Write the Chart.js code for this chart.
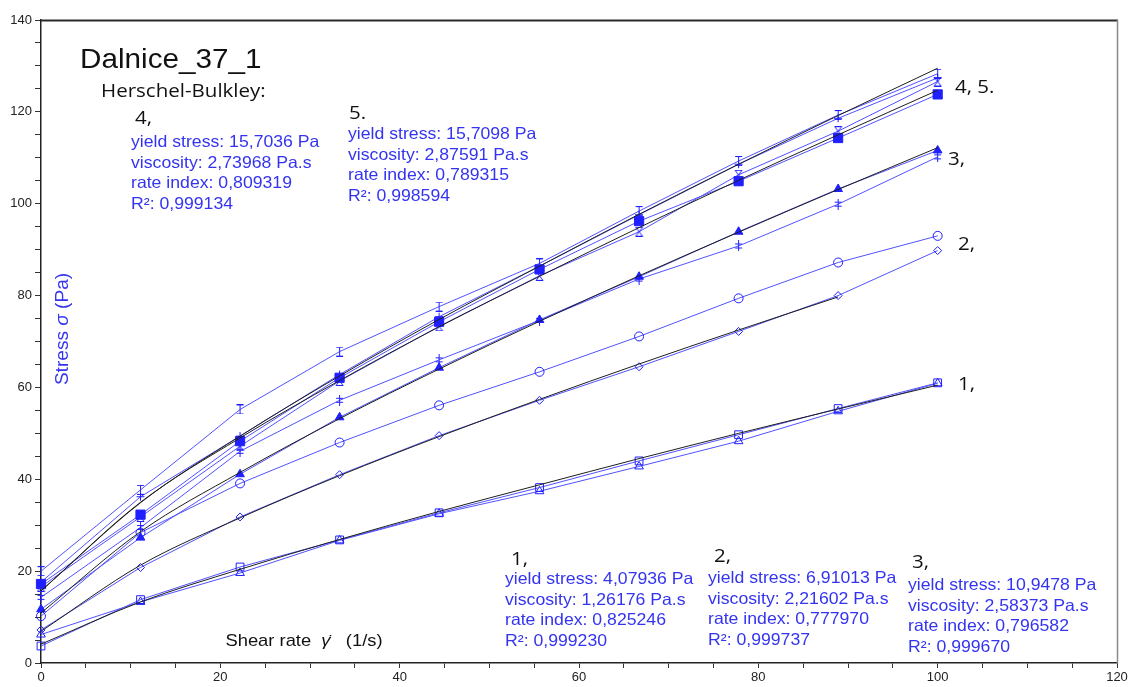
<!DOCTYPE html>
<html>
<head>
<meta charset="utf-8">
<title>Dalnice_37_1</title>
<script src="https://cdn.jsdelivr.net/npm/chart.js@4.4.1/dist/chart.umd.min.js"></script>
<style>
  html, body { margin: 0; padding: 0; background: #fff; }
  #wrap { width: 1131px; height: 687px; }
</style>
</head>
<body>
<div id="wrap"><canvas id="flow" width="1131" height="687"></canvas></div>
<script>
// shear rate steps (1/s)
var shearRate = [0, 11.1, 22.2, 33.3, 44.4, 55.6, 66.7, 77.8, 88.9, 100];

var s1Squares   = [3.7, 13.8, 20.9, 26.8, 32.7, 38.2, 44.0, 49.7, 55.4, 61.0];
var s1Triangles = [6.2, 13.3, 19.6, 26.7, 32.5, 37.4, 42.8, 48.3, 54.8, 60.9];
var s2Diamonds  = [7.2, 20.8, 31.8, 41.0, 49.5, 57.2, 64.5, 72.2, 80.0, 89.8];
var s2Circles   = [10.2, 28.4, 39.1, 48.0, 56.1, 63.4, 71.1, 79.4, 87.2, 93.0];
var s3Filled    = [11.7, 27.3, 41.1, 53.5, 64.3, 74.7, 84.1, 93.9, 103.2, 111.6];
var s3Dagger    = [14.3, 29.5, 46.1, 57.2, 66.0, 74.6, 83.6, 90.8, 99.9, 110.2];
var s45Filled   = [17.2, 32.3, 48.3, 62.1, 74.3, 85.7, 96.2, 104.9, 114.3, 123.8];
var s45Beam     = [20.0, 37.7, 55.2, 67.8, 77.6, 87.0, 98.4, 109.3, 119.3, 128.3];
var s45Cross    = [17.6, 36.2, 49.4, 62.8, 75.4, 86.4, 97.6, 108.6, 118.6, 127.4];
var s45Glass    = [16.6, 31.8, 47.2, 61.4, 73.3, 84.3, 93.9, 106.3, 115.8, 126.6];

// Herschel-Bulkley fit curves (black)
var fit1 = [4.1, 13.3, 20.4, 26.9, 33.0, 38.8, 44.5, 50.0, 55.3, 60.5];
var fit2 = [6.9, 21.3, 31.6, 40.8, 49.3, 57.4, 65.1, 72.5, 79.7, null];
var fit3 = [10.9, 28.6, 41.5, 53.2, 64.0, 74.4, 84.3, 93.8, 103.1, 112.2];
var fit4 = [15.7, 34.9, 49.4, 62.5, 74.8, 86.4, 97.7, 108.6, 119.2, 129.5];
var fit5 = [15.7, 35.0, 49.0, 61.5, 73.2, 84.2, 94.8, 105.1, 115.0, 124.7];

// fit parameters printed on the sheet
var fitNames    = ['1,', '2,', '3,', '4,', '5.'];
var yieldStress = ['4,07936', '6,91013', '10,9478', '15,7036', '15,7098'];
var viscosity   = ['1,26176', '2,21602', '2,58373', '2,73968', '2,87591'];
var rateIndex   = ['0,825246', '0,777970', '0,796582', '0,809319', '0,789315'];
var rSquared    = ['0,999230', '0,999737', '0,999670', '0,999134', '0,998594'];

// tick labels
var xTickLabels = [0, 20, 40, 60, 80, 100, 120];
var yTickLabels = [0, 20, 40, 60, 80, 100, 120, 140];

var LINE_BLUE = '#5252ff';
var MARK = '#1f1fff';
var TEXT_BLUE = '#3434f0';
var FIT_BLACK = '#1e1e1e';
var NUM_FONT = '"Liberation Sans", Arial, sans-serif';
var LABEL_FONT = '"Open Sans", "Noto Sans", sans-serif';

function pts(vals) {
  return shearRate.map(function(x, i) { return {x: x, y: vals[i]}; });
}

// small hand-drawn markers the library does not have
function mark(w, h, draw) {
  var c = document.createElement('canvas');
  c.width = w; c.height = h;
  var g = c.getContext('2d');
  g.strokeStyle = MARK; g.lineWidth = 1;
  g.beginPath(); draw(g); g.stroke();
  return c;
}
var beamMark = mark(9, 10, function(g) {
  g.moveTo(1, 0.5); g.lineTo(8, 0.5);
  g.moveTo(4.5, 0.5); g.lineTo(4.5, 9.5);
  g.moveTo(1, 9.5); g.lineTo(8, 9.5);
});
var daggerMark = mark(9, 11, function(g) {
  g.moveTo(4.5, 0); g.lineTo(4.5, 11);
  g.moveTo(1, 3.5); g.lineTo(8, 3.5);
  g.moveTo(1, 7.5); g.lineTo(8, 7.5);
});
var glassMark = mark(9, 10, function(g) {
  g.moveTo(1, 0.5); g.lineTo(8, 0.5); g.lineTo(4.5, 5); g.closePath();
  g.moveTo(1, 9.5); g.lineTo(8, 9.5); g.lineTo(4.5, 5); g.closePath();
});

function measured(vals, style, radius, filled) {
  return {
    data: pts(vals),
    borderColor: LINE_BLUE,
    borderWidth: 1,
    pointStyle: style,
    pointRadius: radius,
    pointBorderColor: MARK,
    pointBackgroundColor: filled ? MARK : 'rgba(255,255,255,0)',
    pointBorderWidth: 1,
    tension: 0,
    clip: false,
    order: 1
  };
}
function fitted(vals) {
  return {
    data: pts(vals),
    borderColor: FIT_BLACK,
    borderWidth: 1,
    pointRadius: 0,
    cubicInterpolationMode: 'monotone',
    clip: false,
    order: 0
  };
}

function put(ctx, s, x, y, font, color, sx) {
  ctx.save();
  ctx.font = font;
  ctx.fillStyle = color;
  ctx.textBaseline = 'alphabetic';
  ctx.translate(x, y);
  ctx.scale(sx || 1, 1);
  ctx.fillText(s, 0, 0);
  ctx.restore();
}

function paramBlock(ctx, i, x, y) {
  var f = '16.5px ' + NUM_FONT;
  put(ctx, 'yield stress: ' + yieldStress[i] + ' Pa', x, y, f, TEXT_BLUE, 1.07);
  put(ctx, 'viscosity: ' + viscosity[i] + ' Pa.s', x, y + 20.5, f, TEXT_BLUE, 1.07);
  put(ctx, 'rate index: ' + rateIndex[i], x, y + 41, f, TEXT_BLUE, 1.07);
  put(ctx, 'R\u00B2: ' + rSquared[i], x, y + 61.5, f, TEXT_BLUE, 1.07);
}

// draw a row of text runs with different fonts, centred on x
function runs(ctx, parts, x, y, color) {
  ctx.save();
  ctx.fillStyle = color;
  var total = 0;
  parts.forEach(function(p) { ctx.font = p[1]; total += ctx.measureText(p[0]).width; });
  var cx = x - total / 2;
  parts.forEach(function(p) {
    ctx.font = p[1];
    ctx.fillText(p[0], cx, y);
    cx += ctx.measureText(p[0]).width;
  });
  ctx.restore();
}

var sheetText = {
  id: 'sheetText',
  beforeDraw: function(chart) {
    var c = chart.ctx;
    c.save(); c.fillStyle = '#fff'; c.fillRect(0, 0, chart.width, chart.height); c.restore();
  },
  afterDraw: function(chart) {
    var c = chart.ctx, a = chart.chartArea;
    // frame top and right
    c.save();
    c.strokeStyle = '#2a2a2a'; c.lineWidth = 2;
    c.beginPath(); c.moveTo(a.left, a.top + 0.5); c.lineTo(a.right + 1, a.top + 0.5); c.stroke();
    c.strokeStyle = '#8a8a8a'; c.lineWidth = 1.5;
    c.beginPath(); c.moveTo(a.right + 0.5, a.top); c.lineTo(a.right + 0.5, a.bottom); c.stroke();
    c.restore();

    put(c, 'Dalnice_37_1', 80, 68, '28px ' + NUM_FONT, '#111', 1.06);
    put(c, 'Herschel-Bulkley:', 101, 97, '19px ' + LABEL_FONT, '#111', 1.08);

    var lf = '19px ' + LABEL_FONT;
    put(c, fitNames[3], 135, 124, lf, '#111', 1.08);
    paramBlock(c, 3, 131, 147);
    put(c, fitNames[4], 349, 119, lf, '#111', 1.08);
    paramBlock(c, 4, 348, 139);

    put(c, fitNames[0], 511, 565, lf, '#111', 1.08);
    paramBlock(c, 0, 505, 584);
    put(c, fitNames[1], 714, 562, lf, '#111', 1.08);
    paramBlock(c, 1, 708, 583);
    put(c, fitNames[2], 912, 568, lf, '#111', 1.08);
    paramBlock(c, 2, 908, 590);

    put(c, '4, 5.', 955, 93, lf, '#111', 1.08);
    put(c, '3,', 948, 165, lf, '#111', 1.08);
    put(c, '2,', 958, 250, lf, '#111', 1.08);
    put(c, '1,', 958, 390, lf, '#111', 1.08);

    // axis titles sit inside the plot on this sheet
    var tf = '18px ' + NUM_FONT, ti = 'italic 18px ' + NUM_FONT;
    c.save();
    c.translate(68, 329);
    c.rotate(-Math.PI / 2);
    c.scale(1.06, 1);
    runs(c, [['Stress ', tf], ['\u03C3', ti], [' (Pa)', tf]], 0, 0, TEXT_BLUE);
    c.restore();
    var sf = '17px ' + NUM_FONT, si = 'italic 17px ' + NUM_FONT;
    c.save();
    c.translate(304, 646);
    c.scale(1.08, 1);
    runs(c, [['Shear rate  ', sf], ['\u03B3\u0307', si], ['   (1/s)', sf]], 0, 0, '#111');
    c.restore();
  }
};

var axisTicks = { family: NUM_FONT, size: 13 };

new Chart(document.getElementById('flow'), {
  type: 'line',
  data: {
    datasets: [
      measured(s1Squares, 'rect', 5.5, false),
      measured(s1Triangles, 'triangle', 5, false),
      measured(s2Diamonds, 'rectRot', 4, false),
      measured(s2Circles, 'circle', 4.5, false),
      measured(s3Filled, 'triangle', 5, true),
      measured(s3Dagger, daggerMark, 5, false),
      measured(s45Filled, 'rect', 6.5, true),
      measured(s45Beam, beamMark, 5, false),
      measured(s45Cross, 'cross', 4, false),
      measured(s45Glass, glassMark, 5, false),
      fitted(fit1),
      fitted(fit2),
      fitted(fit3),
      fitted(fit4),
      fitted(fit5)
    ]
  },
  options: {
    responsive: false,
    animation: false,
    events: [],
    layout: { padding: { top: 20, right: 14, left: 0, bottom: 0 } },
    plugins: { legend: { display: false }, tooltip: { enabled: false } },
    scales: {
      x: {
        type: 'linear', min: 0, max: 120,
        afterFit: function(s) { s.height = 24; },
        ticks: {
          stepSize: 5, autoSkip: false, maxRotation: 0, padding: 2,
          font: axisTicks, color: '#222',
          callback: function(v) { return xTickLabels.indexOf(v) >= 0 ? String(v) : ''; }
        },
        grid: { drawOnChartArea: false, drawTicks: true, tickLength: 5, tickColor: '#333' },
        border: { color: '#222', width: 1.5 }
      },
      y: {
        type: 'linear', min: 0, max: 140,
        afterFit: function(s) { s.width = 41; },
        ticks: {
          stepSize: 5, autoSkip: false, padding: 3,
          font: axisTicks, color: '#222',
          callback: function(v) { return yTickLabels.indexOf(v) >= 0 ? String(v) : ''; }
        },
        grid: { drawOnChartArea: false, drawTicks: true, tickLength: 6, tickColor: '#333' },
        border: { color: '#222', width: 1.5 }
      }
    }
  },
  plugins: [sheetText]
});
</script>
</body>
</html>
